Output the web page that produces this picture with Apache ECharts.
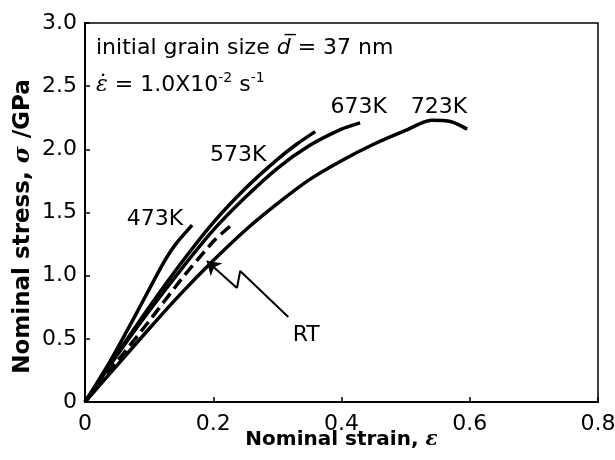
<!DOCTYPE html>
<html>
<head>
<meta charset="utf-8">
<script src="https://cdn.jsdelivr.net/npm/echarts@6/dist/echarts.min.js"></script>
<style>
  html, body { margin: 0; padding: 0; background: #fff; }
  #chart { width: 615px; height: 460px; }
</style>
</head>
<body>
<div id="chart"></div>
<script>
// values (strain, stress in GPa)
var strain473 = [0, 0.04, 0.08, 0.12, 0.14, 0.167];
var stress473 = [0, 0.33, 0.70, 1.08, 1.24, 1.40];

var strain573 = [0, 0.05, 0.1, 0.15, 0.2, 0.25, 0.3, 0.33, 0.359];
var stress573 = [0, 0.38, 0.75, 1.1, 1.42, 1.69, 1.92, 2.04, 2.14];

var strain673 = [0, 0.05, 0.1, 0.15, 0.2, 0.25, 0.3, 0.35, 0.4, 0.429];
var stress673 = [0, 0.37, 0.72, 1.05, 1.36, 1.62, 1.85, 2.03, 2.16, 2.21];

var strain723 = [0, 0.05, 0.1, 0.15, 0.2, 0.25, 0.3, 0.35, 0.4, 0.45, 0.5, 0.54, 0.57, 0.596];
var stress723 = [0, 0.29, 0.58, 0.86, 1.12, 1.36, 1.57, 1.76, 1.91, 2.04, 2.15, 2.23, 2.22, 2.16];

var strainRT = [0, 0.05, 0.1, 0.15, 0.2, 0.228];
var stressRT = [0, 0.32, 0.64, 0.97, 1.27, 1.40];

// the zigzag arrow pointing at the RT curve
var arrowX = [0.317, 0.242, 0.237, 0.190];
var arrowY = [0.673, 1.037, 0.902, 1.116];

// curve labels
var labelText = ['473K', '573K', '673K', '723K', 'RT'];
var labelX = [0.109, 0.239, 0.427, 0.552, 0.345];
var labelY = [1.45, 1.955, 2.335, 2.335, 0.53];

var xTicks = [0, 0.2, 0.4, 0.6, 0.8];
var yTicks = [0, 0.5, 1.0, 1.5, 2.0, 2.5, 3.0];

function pairs(xs, ys) {
  return xs.map(function (x, i) { return [x, ys[i]] })
}

var font = 'DejaVu Sans'

function curve(name, xs, ys, dashed) {
  return {
    name: name,
    type: 'line',
    data: pairs(xs, ys),
    smooth: 0.25,
    showSymbol: false,
    lineStyle: {
      color: '#000',
      width: 3.5,
      type: dashed ? [12, 6] : 'solid'
    },
    z: 3
  }
}

var chart = echarts.init(document.getElementById('chart'))

chart.setOption({
  animation: false,
  backgroundColor: '#fff',
  grid: {
    left: 85,
    right: 17,
    top: 23,
    bottom: 58,
    outerBoundsMode: 'none',
    show: true,
    borderColor: '#000',
    borderWidth: 1.5
  },
  xAxis: {
    type: 'value',
    min: xTicks[0],
    max: xTicks[xTicks.length - 1],
    interval: 0.2,
    name: 'Nominal strain, {e|ε}',
    nameLocation: 'middle',
    nameGap: 28,
    nameMoveOverlap: false,
    nameTextStyle: {
      fontFamily: font,
      fontSize: 20,
      fontWeight: 'bold',
      color: '#000',
      rich: {
        e: { fontFamily: 'DejaVu Serif', fontStyle: 'italic', fontSize: 20, color: '#000' }
      }
    },
    axisLine: { lineStyle: { color: '#000', width: 2 } },
    axisTick: { inside: true, length: 5, lineStyle: { color: '#000', width: 1.5 } },
    splitLine: { show: false },
    axisLabel: {
      margin: 11,
      fontFamily: font,
      fontSize: 22,
      color: '#000',
      formatter: function (v) { return v === 0 ? '0' : v.toFixed(1) }
    }
  },
  yAxis: {
    type: 'value',
    min: yTicks[0],
    max: yTicks[yTicks.length - 1],
    interval: 0.5,
    name: 'Nominal stress, {s|σ} /GPa',
    nameLocation: 'middle',
    nameGap: 50,
    nameMoveOverlap: false,
    nameTextStyle: {
      fontFamily: font,
      fontSize: 23,
      fontWeight: 'bold',
      color: '#000',
      padding: [0, 28, 0, 0],
      rich: {
        s: { fontFamily: 'DejaVu Serif', fontStyle: 'italic', fontSize: 23, color: '#000' }
      }
    },
    axisLine: { lineStyle: { color: '#000', width: 2 } },
    axisTick: { inside: true, length: 5, lineStyle: { color: '#000', width: 1.5 } },
    splitLine: { show: false },
    axisLabel: {
      margin: 8,
      fontFamily: font,
      fontSize: 22,
      color: '#000',
      formatter: function (v) { return v === 0 ? '0' : v.toFixed(1) }
    }
  },
  graphic: [
    {
      type: 'text',
      left: 96,
      top: 37,
      style: {
        text: 'initial grain size {d|d\u0305} = 37 nm',
        font: '22px "DejaVu Sans"',
        fill: '#000',
        rich: {
          d: { fontFamily: font, fontStyle: 'italic', fontSize: 22, fill: '#000' }
        }
      }
    },
    {
      type: 'text',
      left: 96,
      top: 71,
      style: {
        text: '{e|\u03b5\u0307} = 1.0X10{sup|-2} s{sup|-1}',
        font: '22px "DejaVu Sans"',
        fill: '#000',
        lineHeight: 28,
        rich: {
          e: { fontFamily: 'DejaVu Serif', fontStyle: 'italic', fontSize: 22, lineHeight: 28, fill: '#000' },
          sup: { fontFamily: font, fontSize: 14, lineHeight: 14, verticalAlign: 'top', fill: '#000' }
        }
      }
    }
  ],
  series: [
    curve('473K', strain473, stress473),
    curve('573K', strain573, stress573),
    curve('673K', strain673, stress673),
    curve('723K', strain723, stress723),
    curve('RT', strainRT, stressRT, true),
    {
      name: 'arrow',
      type: 'line',
      data: pairs(arrowX.slice(0, 3), arrowY.slice(0, 3)),
      showSymbol: false,
      lineStyle: { color: '#000', width: 2 },
      z: 4
    },
    {
      name: 'arrowHead',
      type: 'lines',
      coordinateSystem: 'cartesian2d',
      symbol: ['none', 'arrow'],
      symbolSize: 13,
      lineStyle: { color: '#000', width: 2, opacity: 1 },
      data: [{
        coords: [[arrowX[2], arrowY[2]], [arrowX[3], arrowY[3]]]
      }],
      z: 4
    },
    {
      name: 'labels',
      type: 'scatter',
      symbolSize: 1,
      itemStyle: { color: 'rgba(0,0,0,0)', opacity: 1 },
      data: labelX.map(function (x, i) { return [x, labelY[i], labelText[i]] }),
      label: {
        show: true,
        position: 'inside',
        formatter: function (p) { return p.value[2] },
        fontFamily: font,
        fontSize: 22,
        color: '#000',
        textBorderWidth: 0
      },
      emphasis: { disabled: true },
      z: 5
    }
  ]
})
</script>
</body>
</html>
